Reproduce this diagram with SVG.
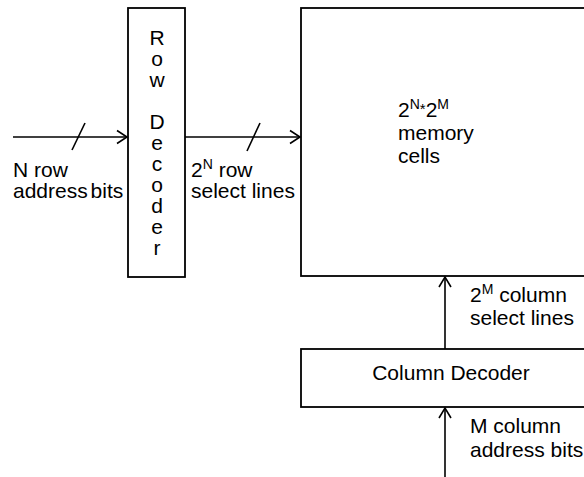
<svg xmlns="http://www.w3.org/2000/svg" width="584" height="477" viewBox="0 0 584 477">
<style>
.box{fill:#fff;stroke:#000;stroke-width:1.8}
.ln{fill:none;stroke:#000;stroke-width:1.6}
text{font-family:"Liberation Sans",Arial,sans-serif;font-size:21px;fill:#000}
.sup{font-size:14px}
</style>
<rect width="584" height="477" fill="#fff"/>
<g id="row-decoder">
<rect class="box" x="128" y="8" width="57" height="269"/>
<g text-anchor="middle">
<text x="157" y="45">R</text>
<text x="157" y="66">o</text>
<text x="157" y="87">w</text>
<text x="157" y="129">D</text>
<text x="157" y="150">e</text>
<text x="157" y="171">c</text>
<text x="157" y="192">o</text>
<text x="157" y="213">d</text>
<text x="157" y="234">e</text>
<text x="157" y="255">r</text>
</g>
</g>
<g id="memory-cells">
<rect class="box" x="301" y="8" width="300" height="268"/>
<text x="398" y="117">2<tspan class="sup" dy="-8">N</tspan><tspan font-size="15" dy="5">*</tspan><tspan dy="3">2</tspan><tspan class="sup" dy="-8">M</tspan></text>
<text x="398" y="140">memory</text>
<text x="398" y="163">cells</text>
</g>
<g id="column-decoder">
<rect class="box" x="301" y="349" width="300" height="58"/>
<text x="451" y="380" text-anchor="middle">Column Decoder</text>
</g>
<g id="connectors">
<line class="ln" x1="13" y1="137" x2="127" y2="137"/>
<polyline class="ln" points="117,130.5 127,137 117,143.5"/>
<line class="ln" x1="72" y1="150" x2="85" y2="123"/>
<line class="ln" x1="185" y1="137" x2="300" y2="137"/>
<polyline class="ln" points="290,130.5 300,137 290,143.5"/>
<line class="ln" x1="247" y1="151" x2="260" y2="123"/>
<line class="ln" x1="445" y1="349" x2="445" y2="277"/>
<polyline class="ln" points="439,287 445,277 451,287"/>
<line class="ln" x1="445" y1="477" x2="445" y2="408"/>
<polyline class="ln" points="439,418 445,408 451,418"/>
</g>
<g id="labels">
<text x="13" y="177">N row</text>
<text x="13" y="198" word-spacing="-3">address bits</text>
<text x="191" y="177">2<tspan class="sup" dy="-8">N</tspan><tspan dy="8"> row</tspan></text>
<text x="191" y="198">select lines</text>
<text x="470" y="302">2<tspan class="sup" dy="-8">M</tspan><tspan dy="8"> column</tspan></text>
<text x="470" y="325">select lines</text>
<text x="470" y="433">M column</text>
<text x="470" y="457">address bits</text>
</g>
</svg>
